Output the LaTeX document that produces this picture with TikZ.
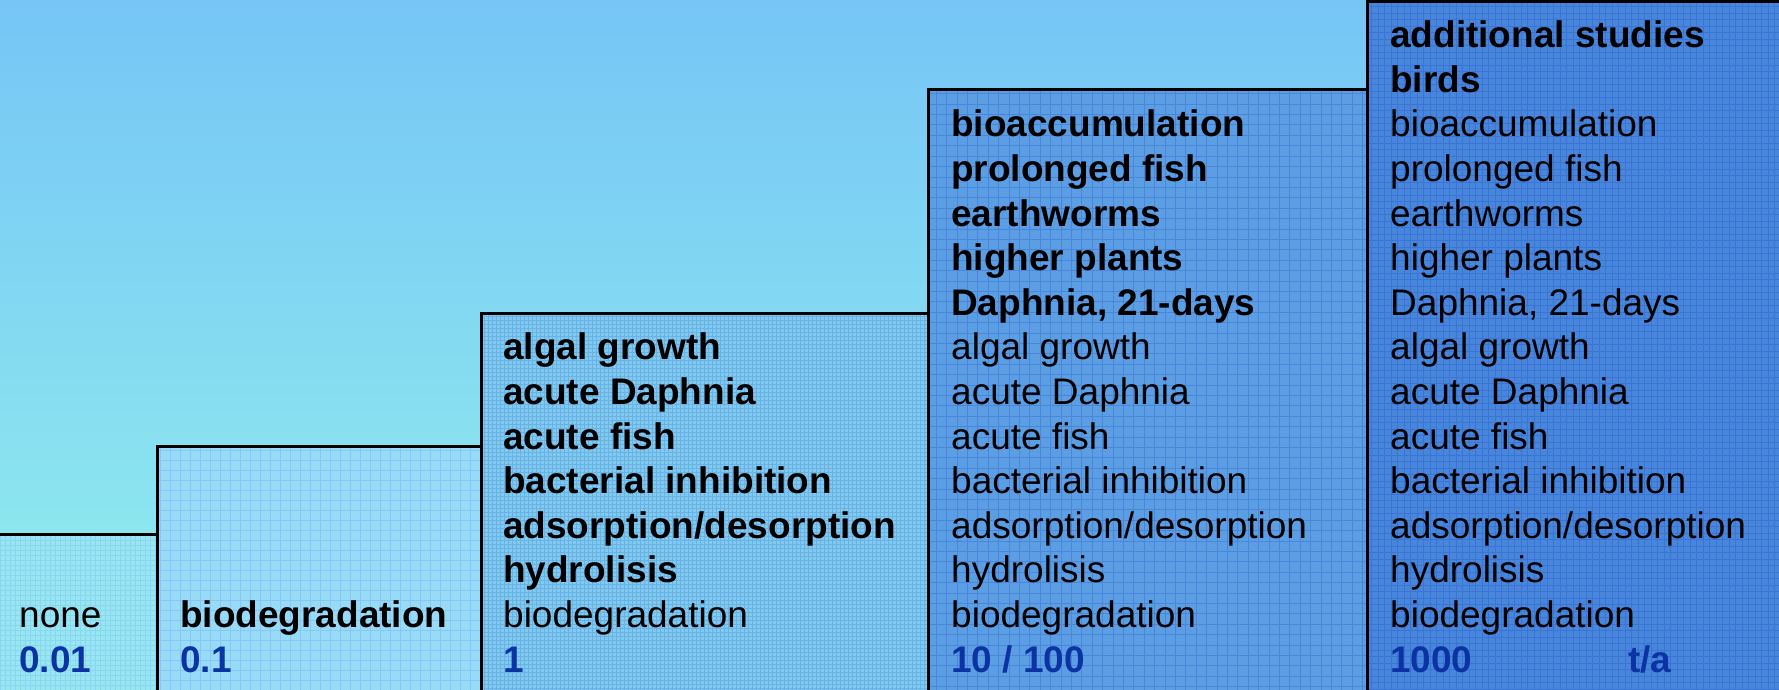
\documentclass[tikz,border=0pt]{standalone}
\usepackage{fontspec}
\setmainfont{Liberation Sans}
\definecolor{bgtop}{HTML}{76C5F6}
\definecolor{bgbot}{HTML}{92F0EC}
\definecolor{fA}{HTML}{97E6F1}
\definecolor{fB}{HTML}{98DBF6}
\definecolor{fC}{HTML}{80CAEF}
\definecolor{fD}{HTML}{5C9EE4}
\definecolor{fE}{HTML}{4886DC}
\definecolor{gA}{HTML}{88D6F0}
\definecolor{gB}{HTML}{88C6F8}
\definecolor{gC}{HTML}{6AB2E6}
\definecolor{gD}{HTML}{4A86DA}
\definecolor{gE}{HTML}{3A74D4}
\definecolor{numblue}{HTML}{0C33A3}
\tikzset{
  lineN/.style={anchor=base west, inner sep=0pt, font=\fontsize{37}{44}\selectfont},
  lineB/.style={lineN, font=\fontsize{37}{44}\selectfont\bfseries},
  lineV/.style={lineB, text=numblue},
  tier/.style={draw=black, line width=3pt},
}
\newcommand\tierbox[6]{%
  \fill[#4] (#1,#3) rectangle (#2,700);
  \begin{scope}
    \clip (#1,#3) rectangle (#2,700);
    \draw[#5, line width=0.6pt, step=#6] (#1,#3) grid (#2,700);
  \end{scope}
  \draw[tier] (#1,700) -- (#1,#3) -- (#2,#3) -- (#2,700);
}
\newcommand\tiertext[4]{%
  \foreach \s/\t [count=\i] in {#4}{
    \node[line\s] (#1-\i) at (#2, {672-(#3-\i)*44.6}) {\t};
  }%
}
\begin{document}
\begin{tikzpicture}[x=1pt,y=-1pt]
\useasboundingbox (0,0) rectangle (1779,690);
\begin{scope}
\clip (0,0) rectangle (1779,690);
\shade[top color=bgtop, bottom color=bgbot] (0,0) rectangle (1779,690);
\tierbox{-10}{157}{534}{fA}{gA}{5pt}
\tierbox{157}{481}{446}{fB}{gB}{10pt}
\tierbox{481}{928}{313}{fC}{gC}{4pt}
\tierbox{928}{1367}{90}{fD}{gD}{10.4pt}
\tierbox{1367}{1800}{2}{fE}{gE}{6.5pt}
\end{scope}
\tiertext{ta}{19}{2}{N/none, V/0.01}
\tiertext{tb}{180}{2}{B/biodegradation, V/0.1}
\tiertext{tc}{503}{8}{B/algal growth, B/acute Daphnia, B/acute fish, B/bacterial inhibition, B/adsorption{/}desorption, B/hydrolisis, N/biodegradation, V/1}
\tiertext{td}{951}{13}{B/bioaccumulation, B/prolonged fish, B/earthworms, B/higher plants, B/Daphnia{,} 21-days, N/algal growth, N/acute Daphnia, N/acute fish, N/bacterial inhibition, N/adsorption{/}desorption, N/hydrolisis, N/biodegradation, V/10 {/} 100}
\tiertext{te}{1390}{15}{B/additional studies, B/birds, N/bioaccumulation, N/prolonged fish, N/earthworms, N/higher plants, N/Daphnia{,} 21-days, N/algal growth, N/acute Daphnia, N/acute fish, N/bacterial inhibition, N/adsorption{/}desorption, N/hydrolisis, N/biodegradation, V/1000}
\node[lineV] (unit) at (1628,672) {t/a};
\end{tikzpicture}
\end{document}
